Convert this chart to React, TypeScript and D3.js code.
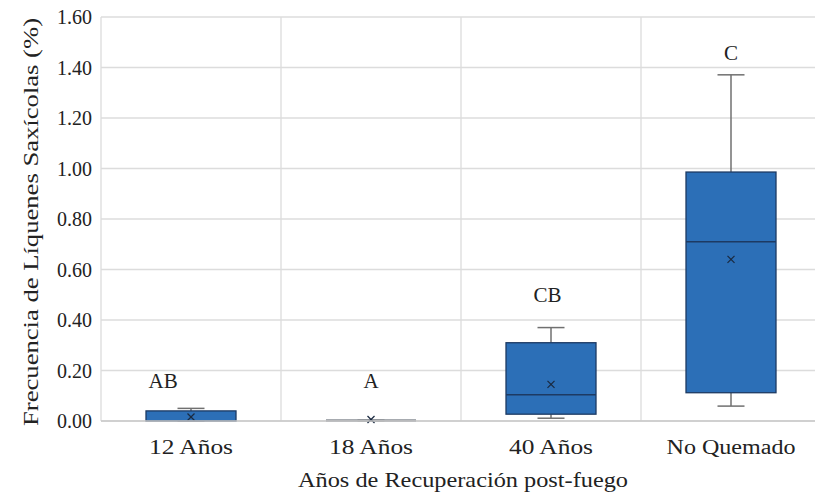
import React from "react";
import * as d3 from "d3";

const categories = ["12 Años", "18 Años", "40 Años", "No Quemado"];
const whiskerLow = [0.0, 0.0, 0.011, 0.059];
const q1 = [0.0, 0.0, 0.027, 0.112];
const median = [0.0, 0.0, 0.104, 0.71];
const q3 = [0.04, 0.003, 0.31, 0.986];
const whiskerHigh = [0.05, 0.003, 0.37, 1.371];
const means = [0.016, 0.006, 0.145, 0.64];
const letters = ["AB", "A", "CB", "C"];
const letterValues = [0.13, 0.13, 0.47, 1.43];
const letterShift = [-0.155, 0, -0.02, 0];
const yTicks = [0, 0.2, 0.4, 0.6, 0.8, 1.0, 1.2, 1.4, 1.6];

const W = 815;
const H = 493;
const left = 101;
const right = 821;
const top = 17;
const bottom = 421;
const FONT = "'Liberation Serif', 'Times New Roman', serif";

export default function App() {
  const x = d3.scaleBand<string>().domain(categories).range([left, right]).padding(0);
  const y = d3.scaleLinear().domain([0, 1.6]).range([bottom, top]);
  const bw = x.bandwidth();
  const boxW = bw * 0.5;
  const capW = bw * 0.15;
  const fill = "#2c6fb7";
  const edge = "#1d3a63";
  const whisk = "#707070";
  const grid = "#dcdcdc";

  return (
    <svg width={W} height={H} style={{ position: "absolute", left: 0, top: 0, background: "#fff" }}>
      {yTicks.map((t) => (
        <line key={"g" + t} x1={left} x2={right} y1={y(t)} y2={y(t)} stroke={grid} strokeWidth={1.3} />
      ))}
      {categories.map((c) => (
        <line key={"v" + c} x1={x(c)!} x2={x(c)!} y1={top} y2={bottom} stroke={grid} strokeWidth={1.3} />
      ))}
      <line x1={right - 0.5} x2={right - 0.5} y1={top} y2={bottom} stroke={grid} strokeWidth={1.3} />
      {yTicks.map((t) => (
        <text key={"t" + t} x={92} y={y(t)} dy="0.35em" textAnchor="end" fontFamily={FONT} fontSize={20} fill="#222">
          {t.toFixed(2)}
        </text>
      ))}
      {categories.map((c, i) => {
        const cx = x(c)! + bw / 2;
        return (
          <g key={"b" + c}>
            <line x1={cx} x2={cx} y1={y(q3[i])} y2={y(whiskerHigh[i])} stroke={whisk} strokeWidth={1.5} />
            <line x1={cx - capW / 2} x2={cx + capW / 2} y1={y(whiskerHigh[i])} y2={y(whiskerHigh[i])} stroke={whisk} strokeWidth={1.5} />
            <line x1={cx} x2={cx} y1={y(q1[i])} y2={y(whiskerLow[i])} stroke={whisk} strokeWidth={1.5} />
            <line x1={cx - capW / 2} x2={cx + capW / 2} y1={y(whiskerLow[i])} y2={y(whiskerLow[i])} stroke={whisk} strokeWidth={1.5} />
            {q3[i] - q1[i] > 0.01 ? (
              <rect x={cx - boxW / 2} y={y(q3[i])} width={boxW} height={y(q1[i]) - y(q3[i])} fill={fill} stroke={edge} strokeWidth={1.3} />
            ) : (
              <line x1={cx - boxW / 2} x2={cx + boxW / 2} y1={y(q1[i]) - 0.5} y2={y(q1[i]) - 0.5} stroke="#8a8f96" strokeWidth={2.5} />
            )}
            {median[i] > q1[i] && (
              <line x1={cx - boxW / 2} x2={cx + boxW / 2} y1={y(median[i])} y2={y(median[i])} stroke={edge} strokeWidth={1.5} />
            )}
            <g transform={`translate(${cx},${y(means[i])})`} stroke="#1a2a40" strokeWidth={1.2}>
              <line x1={-3.5} x2={3.5} y1={-3.5} y2={3.5} />
              <line x1={-3.5} x2={3.5} y1={3.5} y2={-3.5} />
            </g>
            <text x={cx + letterShift[i] * bw} y={y(letterValues[i])} textAnchor="middle" fontFamily={FONT} fontSize={21} fill="#222">
              {letters[i]}
            </text>
            <text x={cx} y={454} textAnchor="middle" fontFamily={FONT} fontSize={20} fill="#222"
              textLength={c.length > 8 ? 129 : 84} lengthAdjust="spacingAndGlyphs">
              {c}
            </text>
          </g>
        );
      })}
      <line x1={left} x2={right} y1={bottom} y2={bottom} stroke="#c8c8c8" strokeWidth={1.3} />
      <text x={463} y={487} textAnchor="middle" fontFamily={FONT} fontSize={21} fill="#222"
        textLength={330} lengthAdjust="spacingAndGlyphs">
        Años de Recuperación post-fuego
      </text>
      <text transform={`translate(38,222) rotate(-90)`} textAnchor="middle" fontFamily={FONT} fontSize={21} fill="#222"
        textLength={408} lengthAdjust="spacingAndGlyphs">
        Frecuencia de Líquenes Saxícolas (%)
      </text>
    </svg>
  );
}
